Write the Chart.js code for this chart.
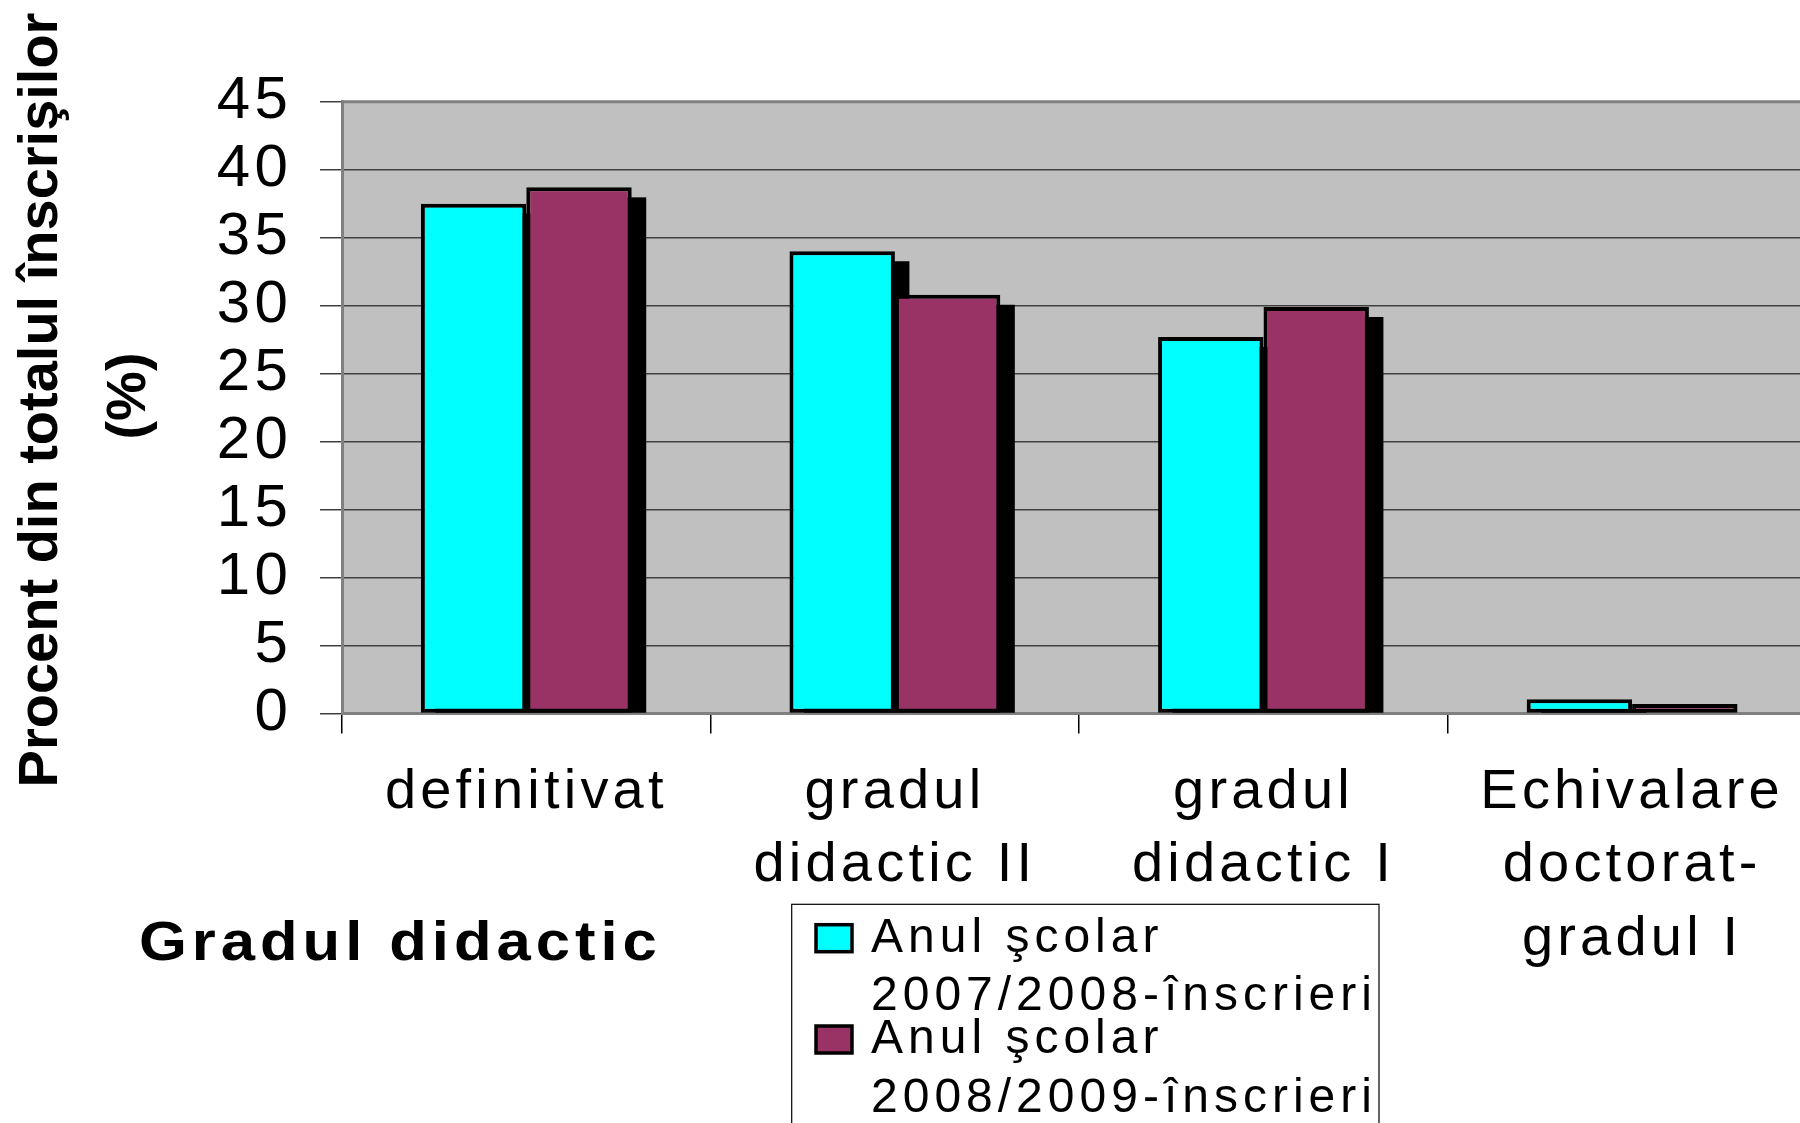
<!DOCTYPE html>
<html>
<head>
<meta charset="utf-8">
<script src="https://cdn.jsdelivr.net/npm/chart.js@4.4.1/dist/chart.umd.min.js"></script>
<style>
  html, body { margin: 0; padding: 0; background: #ffffff; overflow: hidden; width: 1800px; height: 1123px; }
  canvas { display: block; }
</style>
</head>
<body>
<canvas id="c" width="1830" height="1123"></canvas>
<script>
// ---- data ----
const categories = [
  'definitivat',
  ['gradul', 'didactic II'],
  ['gradul', 'didactic I'],
  ['Echivalare', 'doctorat-', 'gradul I']
];
const series2007 = [37.5, 34.0, 27.7, 1.05];
const series2008 = [38.7, 30.8, 29.9, 0.7];
const seriesLabels = [
  ['Anul şcolar', '2007/2008-înscrieri'],
  ['Anul şcolar', '2008/2009-înscrieri']
];
const yTickValues = [0, 5, 10, 15, 20, 25, 30, 35, 40, 45];
const yTitleLines = ['Procent din totalul înscrişilor', '(%)'];
const xTitle = 'Gradul didactic';

const FONT = '"Liberation Sans", Arial, sans-serif';

const overlay = {
  id: 'overlay',
  beforeLayout(chart) {
    chart.ctx.letterSpacing = '4.2px';
  },
  beforeDraw(chart) {
    const { ctx, chartArea: a } = chart;
    ctx.save();
    ctx.fillStyle = '#C0C0C0';
    ctx.fillRect(a.left, a.top, a.right - a.left, a.bottom - a.top);
    ctx.restore();
  },
  beforeDatasetsDraw(chart) {
    const { ctx, chartArea: a } = chart;
    ctx.save();
    ctx.strokeStyle = '#808080';
    ctx.lineWidth = 3;
    ctx.beginPath();
    ctx.moveTo(a.left, a.top);
    ctx.lineTo(a.right, a.top);
    ctx.lineTo(a.right, a.bottom);
    ctx.stroke();
    const dx = 14.5, dy = 10;
    ctx.fillStyle = '#000000';
    chart.data.datasets.forEach((ds, i) => {
      const meta = chart.getDatasetMeta(i);
      meta.data.forEach(bar => {
        const p = bar.getProps(['x', 'y', 'base', 'width'], true);
        const h = p.base - p.y - dy;
        if (h > 0) ctx.fillRect(p.x - p.width / 2 + dx, p.y + dy, p.width, h);
      });
    });
    ctx.restore();
  },
  afterDraw(chart) {
    const ctx = chart.ctx;
    ctx.save();
    ctx.fillStyle = '#000000';
    ctx.letterSpacing = '0px';
    ctx.font = 'bold 56px ' + FONT;
    ctx.textAlign = 'center';
    ctx.textBaseline = 'alphabetic';
    const yPos = [[57, 400], [145, 396]];
    yTitleLines.forEach((t, i) => {
      ctx.save();
      ctx.translate(yPos[i][0], yPos[i][1]);
      ctx.rotate(-Math.PI / 2);
      ctx.fillText(t, 0, 0);
      ctx.restore();
    });
    // x axis title, slightly widened glyphs
    ctx.save();
    ctx.translate(139, 960);
    ctx.scale(1.1, 1);
    ctx.letterSpacing = '4.5px';
    ctx.textAlign = 'left';
    ctx.fillText(xTitle, 0, 0);
    ctx.restore();
    // legend
    ctx.textAlign = 'left';
    ctx.letterSpacing = '5px';
    ctx.strokeStyle = '#000000';
    ctx.lineWidth = 1.2;
    ctx.strokeRect(791.7, 904.3, 1379 - 791.7, 260);
    ctx.font = '48px ' + FONT;
    const baselines = [[951.7, 1010], [1053, 1111.7]];
    chart.data.datasets.forEach((ds, i) => {
      const b = baselines[i];
      ctx.fillStyle = ds.backgroundColor;
      ctx.fillRect(816, b[0] - 27, 36, 27);
      ctx.lineWidth = 3.5;
      ctx.strokeStyle = '#000000';
      ctx.strokeRect(816, b[0] - 27, 36, 27);
      ctx.fillStyle = '#000000';
      ds.label.forEach((line, j) => ctx.fillText(line, 871, b[j]));
    });
    ctx.restore();
  }
};

new Chart(document.getElementById('c'), {
  type: 'bar',
  data: {
    labels: categories,
    datasets: [
      {
        label: seriesLabels[0],
        data: series2007,
        backgroundColor: '#00FFFF',
        borderColor: '#000000',
        borderWidth: 4,
        borderSkipped: false
      },
      {
        label: seriesLabels[1],
        data: series2008,
        backgroundColor: '#993366',
        borderColor: '#000000',
        borderWidth: 4,
        borderSkipped: false
      }
    ]
  },
  options: {
    responsive: false,
    animation: false,
    devicePixelRatio: 1,
    layout: { padding: { top: 101.7, right: 13.6, bottom: 0, left: 0 } },
    datasets: { bar: { categoryPercentage: 0.572, barPercentage: 1.0 } },
    plugins: { legend: { display: false }, tooltip: { enabled: false }, title: { display: false } },
    scales: {
      x: {
        grid: { display: true, drawOnChartArea: false, offset: true, tickLength: 20, color: '#000000', lineWidth: 1.5 },
        border: { display: true, color: '#808080', width: 3 },
        ticks: {
          color: '#000000',
          font: { family: FONT, size: 56, lineHeight: 1.315 },
          padding: 22,
          autoSkip: false,
          maxRotation: 0,
          minRotation: 0
        },
        afterFit(s) { s.height = 1123 - 713.5; }
      },
      y: {
        min: 0,
        max: 45,
        afterBuildTicks(s) { s.ticks = yTickValues.map(v => ({ value: v })); },
        grid: { color: '#404040', lineWidth: 1.5, tickLength: 22 },
        border: { display: true, color: '#808080', width: 3 },
        ticks: {
          color: '#000000',
          font: { family: FONT, size: 60, lineHeight: 1.0 },
          padding: 28,
          autoSkip: false
        },
        afterFit(s) { s.width = 342; }
      }
    }
  },
  plugins: [overlay]
});
</script>
</body>
</html>
